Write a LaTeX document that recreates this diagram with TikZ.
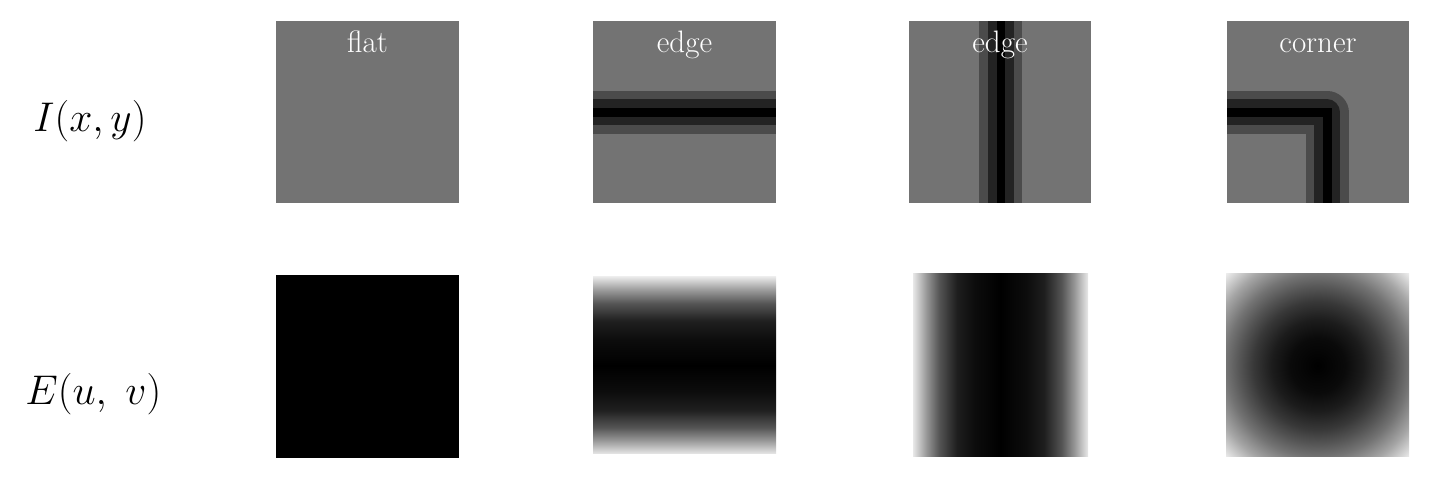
\documentclass[tikz,border=0pt]{standalone}
\usepackage{tikz}
\definecolor{imgray}{HTML}{737373}
\definecolor{bandA}{HTML}{4B4B4B}
\definecolor{bandB}{HTML}{232323}
\definecolor{gA}{gray}{0.0}
\definecolor{gB}{gray}{0.05}
\definecolor{gC}{gray}{0.12}
\definecolor{gD}{gray}{0.33}
\definecolor{gE}{gray}{0.6}
\definecolor{gF}{gray}{0.91}
\definecolor{rA}{gray}{0.0}
\definecolor{rB}{gray}{0.04}
\definecolor{rC}{gray}{0.11}
\definecolor{rD}{gray}{0.22}
\definecolor{rE}{gray}{0.33}
\definecolor{rF}{gray}{0.45}
\definecolor{rG}{gray}{0.65}
\definecolor{rH}{gray}{0.93}
\pgfdeclareverticalshading{edgeEv}{100bp}{color(0bp)=(gF); color(25bp)=(gF); color(28.75bp)=(gE); color(32.5bp)=(gD); color(37.5bp)=(gC); color(42.5bp)=(gB); color(50bp)=(gA); color(57.5bp)=(gB); color(62.5bp)=(gC); color(67.5bp)=(gD); color(71.25bp)=(gE); color(75bp)=(gF); color(100bp)=(gF)}
\pgfdeclarehorizontalshading{edgeEh}{100bp}{color(0bp)=(gF); color(25bp)=(gF); color(28.75bp)=(gE); color(32.5bp)=(gD); color(37.5bp)=(gC); color(42.5bp)=(gB); color(50bp)=(gA); color(57.5bp)=(gB); color(62.5bp)=(gC); color(67.5bp)=(gD); color(71.25bp)=(gE); color(75bp)=(gF); color(100bp)=(gF)}
\pgfdeclareradialshading{cornerE}{\pgfpoint{0bp}{0bp}}{color(0bp)=(rA); color(7.5bp)=(rB); color(12.5bp)=(rC); color(17.5bp)=(rD); color(21.25bp)=(rE); color(25bp)=(rF); color(30bp)=(rG); color(35.5bp)=(rH); color(50bp)=(rH)}
\tikzset{
  cap label/.style={text=white, font=\fontsize{15.5}{17}\selectfont, anchor=base, inner sep=0pt},
  row label/.style={text=black, font=\fontsize{22}{26}\selectfont, anchor=base west, inner sep=0pt},
  imgbox/.style={fill=imgray, draw=none},
  lband/.style={line join=round},
  lcore/.style={line join=miter}
}
\begin{document}
\begin{tikzpicture}[x=0.5pt,y=-0.5pt]
\useasboundingbox (0,0) rectangle (1442,480);
% row labels
\node[row label] (lblI) at (33,132) {$I(x,y)$};
\node[row label] (lblE) at (25,405) {$E(u,\;v)$};
% top row: flat
\fill[imgbox] (276,21) rectangle (459,203);
% top row: horizontal edge
\fill[imgbox] (593,21) rectangle (776,203);
\fill[bandA] (593,91) rectangle (776,134);
\fill[bandB] (593,99) rectangle (776,125);
\fill[black] (593,108) rectangle (776,117);
% top row: vertical edge
\fill[imgbox] (909,21) rectangle (1091,203);
\fill[bandA] (979,21) rectangle (1022,203);
\fill[bandB] (988,21) rectangle (1014,203);
\fill[black] (996.5,21) rectangle (1005,203);
% top row: corner
\begin{scope}
\clip (1227,21) rectangle (1409,203);
\fill[imgbox] (1227,21) rectangle (1409,203);
\draw[lband, bandA, line width=21.5pt] (1200,112.5) -- (1327,112.5) -- (1327,230);
\draw[lband, bandB, line width=13pt] (1200,112.5) -- (1327,112.5) -- (1327,230);
\draw[lcore, black, line width=4.5pt] (1200,112.5) -- (1327,112.5) -- (1327,230);
\end{scope}
% captions
\node[cap label] (tflat) at (367.5,53) {flat};
\node[cap label] (tedge1) at (684.5,53) {edge};
\node[cap label] (tedge2) at (1000,53) {edge};
\node[cap label] (tcorner) at (1318,53) {corner};
% bottom row
\fill[black] (276,275) rectangle (459,458);
\shade[shading=edgeEv] (593,277) rectangle (776,454);
\shade[shading=edgeEh] (913,274) rectangle (1088,457);
\shade[shading=cornerE] (1226,274) rectangle (1409,457);
\end{tikzpicture}
\end{document}
